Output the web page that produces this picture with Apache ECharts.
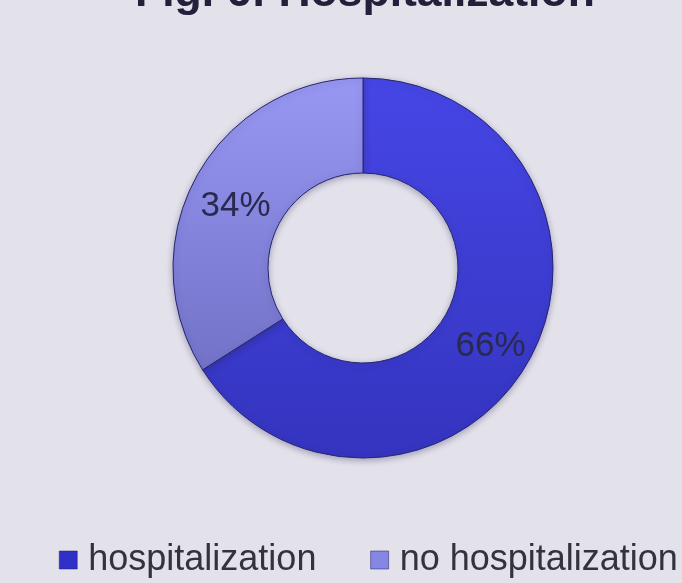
<!DOCTYPE html>
<html>
<head>
<meta charset="utf-8">
<style>
  html, body { margin: 0; padding: 0; background: #e3e1ea; }
  #chart { width: 682px; height: 583px; }
</style>
<script src="https://cdn.jsdelivr.net/npm/echarts@6/dist/echarts.min.js"></script>
</head>
<body>
<div id="chart"></div>
<script>
const titleText = 'Fig. 6: Hospitalization';
const categories = ['hospitalization', 'no hospitalization'];
const values = [66, 34];

// top / bottom gradient stops per slice
const sliceColors = [
  ['#4646e6', '#3434bf'],
  ['#9898f4', '#7272c8'],
];
const legendColors = ['#3030c8', '#8686e4'];

const chart = echarts.init(document.getElementById('chart'));

const option = {
  backgroundColor: '#e3e1ea',
  title: {
    text: titleText,
    left: 130,
    top: -34,
    textStyle: {
      fontFamily: 'Liberation Sans',
      fontWeight: 'bold',
      fontSize: 44.5,
      color: '#22203a',
    },
  },
  legend: {
    left: 54,
    top: 537,
    width: 1200,
    itemWidth: 18,
    itemHeight: 18,
    itemGap: 54,
    icon: 'rect',
    selectedMode: false,
    data: categories.map((name, i) => ({
      name,
      itemStyle: { color: legendColors[i], borderColor: '#1c1c60', borderWidth: 0.5 },
    })),
    textStyle: {
      fontFamily: 'Liberation Sans',
      fontSize: 36,
      color: '#34323e',
      padding: [0, 0, 0, 6],
    },
  },
  series: [
    {
      type: 'pie',
      center: [363, 268],
      radius: [95, 190],
      startAngle: 90,
      clockwise: true,
      animation: false,
      silent: true,
      label: {
        show: true,
        position: 'inside',
        formatter: '{c}%',
        fontFamily: 'Liberation Sans',
        fontSize: 35,
        color: '#2a2950',
        offset: [0, 8],
      },
      labelLine: { show: false },
      itemStyle: {
        borderColor: '#26266e',
        borderWidth: 1,
        shadowBlur: 6,
        shadowColor: 'rgba(40, 40, 90, 0.35)',
        shadowOffsetY: 2,
      },
      data: categories.map((name, i) => ({
        name,
        value: values[i],
        itemStyle: {
          color: new echarts.graphic.LinearGradient(0, 0, 0, 1, [
            { offset: 0, color: sliceColors[i][0] },
            { offset: 1, color: sliceColors[i][1] },
          ]),
        },
      })),
    },
  ],
};

chart.setOption(option);
</script>
</body>
</html>
